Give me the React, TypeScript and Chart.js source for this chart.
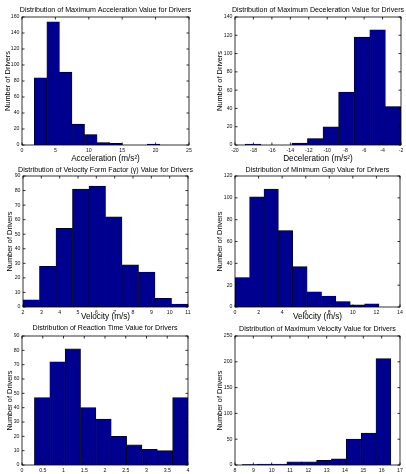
import React, { useEffect, useRef } from 'react';
import { Chart, registerables } from 'chart.js';

Chart.register(...registerables);

// Histogram bin centres and driver counts for each parameter
const accelCenters = [2.78, 4.66, 6.54, 8.42, 10.3, 12.18, 14.06, 15.94, 17.82, 19.7];
const accelCounts = [84, 154, 91, 26, 13, 3, 2, 0, 0, 1];

const decelCenters = [-18.06, -16.37, -14.68, -12.99, -11.3, -9.61, -7.92, -6.23, -4.54, -2.85];
const decelCounts = [1, 0, 0, 2, 7, 20, 58, 118, 126, 42];

const formCenters = [2.45, 3.35, 4.25, 5.15, 6.05, 6.95, 7.85, 8.75, 9.65, 10.55];
const formCounts = [5, 28, 54, 81, 83, 62, 29, 24, 6, 2];

const gapCenters = [0.63, 1.85, 3.07, 4.29, 5.51, 6.73, 7.95, 9.17, 10.39, 11.61];
const gapCounts = [27, 101, 108, 70, 37, 14, 10, 5, 2, 3];

const reactCenters = [0.485, 0.855, 1.225, 1.595, 1.965, 2.335, 2.705, 3.075, 3.445, 3.815];
const reactCounts = [47, 72, 81, 40, 32, 20, 14, 11, 10, 47];

const vmaxCenters = [8.805, 9.615, 10.425, 11.235, 12.045, 12.855, 13.665, 14.475, 15.285, 16.095];
const vmaxCounts = [1, 2, 2, 6, 6, 9, 12, 50, 62, 206];

const FONT = '"Liberation Sans", Arial, Helvetica, sans-serif';
const BAR_COLOR = '#00008F';

type Panel = {
  title: string;
  xTitle: string;
  centers: number[];
  counts: number[];
  xMin: number;
  xMax: number;
  xStep: number;
  yMax: number;
  yStep: number;
  // canvas placement on the page
  cx: number;
  cy: number;
  cw: number;
  ch: number;
  // plot area on the page
  L: number;
  T: number;
  R: number;
  B: number;
  titleY: number;
  yTitleX: number;
  xTitleY: number;
};

const panels: Panel[] = [
  {
    title: 'Distribution of Maximum Acceleration Value for Drivers',
    xTitle: 'Acceleration (m/s²)',
    centers: accelCenters, counts: accelCounts,
    xMin: 0, xMax: 25, xStep: 5, yMax: 160, yStep: 20,
    cx: 0, cy: 0, cw: 203, ch: 164,
    L: 22, T: 17, R: 189, B: 145,
    titleY: 10, yTitleX: 7.5, xTitleY: 159,
  },
  {
    title: 'Distribution of Maximum Deceleration Value for Drivers',
    xTitle: 'Deceleration (m/s²)',
    centers: decelCenters, counts: decelCounts,
    xMin: -20, xMax: -2, xStep: 2, yMax: 140, yStep: 20,
    cx: 203, cy: 0, cw: 203, ch: 164,
    L: 235, T: 17, R: 401, B: 145,
    titleY: 10.3, yTitleX: 220, xTitleY: 158.5,
  },
  {
    title: 'Distribution of Velocity Form Factor (γ) Value for Drivers',
    xTitle: 'Velocity (m/s)',
    centers: formCenters, counts: formCounts,
    xMin: 2, xMax: 11, xStep: 1, yMax: 90, yStep: 10,
    cx: 0, cy: 164, cw: 203, ch: 157,
    L: 23, T: 176, R: 188, B: 307,
    titleY: 170, yTitleX: 10, xTitleY: 316.5,
  },
  {
    title: 'Distribution of Minimum Gap Value for Drivers',
    xTitle: 'Velocity (m/s)',
    centers: gapCenters, counts: gapCounts,
    xMin: 0, xMax: 14, xStep: 2, yMax: 120, yStep: 20,
    cx: 203, cy: 164, cw: 203, ch: 157,
    L: 235, T: 176, R: 400, B: 307,
    titleY: 170, yTitleX: 220, xTitleY: 316.5,
  },
  {
    title: 'Distribution of Reaction Time Value for Drivers',
    xTitle: '',
    centers: reactCenters, counts: reactCounts,
    xMin: 0, xMax: 4, xStep: 0.5, yMax: 90, yStep: 10,
    cx: 0, cy: 321, cw: 203, ch: 153,
    L: 22, T: 336, R: 188, B: 465,
    titleY: 328.5, yTitleX: 10, xTitleY: 480,
  },
  {
    title: 'Distribution of Maximum Velocity Value for Drivers',
    xTitle: '',
    centers: vmaxCenters, counts: vmaxCounts,
    xMin: 8, xMax: 17, xStep: 1, yMax: 250, yStep: 50,
    cx: 203, cy: 321, cw: 203, ch: 153,
    L: 235, T: 336, R: 400, B: 465,
    titleY: 329, yTitleX: 220, xTitleY: 480,
  },
];

const TITLE_SIZE = 7.1;
const TICK_SIZE = 5.2;
const YLABEL_SIZE = 7.4;
const XLABEL_SIZE = 8.2;

// Plain numeric tick text: 0.5, 1, 1.5 ... without padded decimals
const tickText = (v: number | string) => String(Math.round(Number(v) * 1000) / 1000);

// Boxed axes with inward ticks on all four sides plus a centred title
const framePlugin = {
  id: 'frame',
  afterDatasetsDraw(chart: any, _args: any, opts: any) {
    const { ctx, chartArea: a, scales } = chart;
    ctx.save();
    ctx.strokeStyle = '#000';
    ctx.lineWidth = 0.8;
    ctx.strokeRect(a.left, a.top, a.right - a.left, a.bottom - a.top);
    const tl = 2.5;
    ctx.beginPath();
    scales.x.ticks.forEach((t: any) => {
      const px = scales.x.getPixelForValue(t.value);
      ctx.moveTo(px, a.bottom);
      ctx.lineTo(px, a.bottom - tl);
      ctx.moveTo(px, a.top);
      ctx.lineTo(px, a.top + tl);
    });
    scales.y.ticks.forEach((t: any) => {
      const py = scales.y.getPixelForValue(t.value);
      ctx.moveTo(a.left, py);
      ctx.lineTo(a.left + tl, py);
      ctx.moveTo(a.right, py);
      ctx.lineTo(a.right - tl, py);
    });
    ctx.stroke();
    ctx.fillStyle = '#000';
    ctx.font = `${TITLE_SIZE}px ${FONT}`;
    ctx.textAlign = 'center';
    ctx.textBaseline = 'middle';
    ctx.fillText(opts.text, (a.left + a.right) / 2, opts.y);
    ctx.restore();
  },
};

function HistPanel({ p }: { p: Panel }) {
  const ref = useRef<HTMLCanvasElement>(null);

  useEffect(() => {
    const canvas = ref.current;
    if (!canvas) return;
    const l = p.L - p.cx;
    const t = p.T - p.cy;
    const r = p.R - p.cx;
    const b = p.B - p.cy;

    const chart = new Chart(canvas, {
      type: 'bar',
      data: {
        datasets: [
          {
            data: p.centers.map((c, i) => ({ x: c, y: p.counts[i] })),
            backgroundColor: BAR_COLOR,
            borderColor: '#000',
            borderWidth: 0.6,
            borderSkipped: 'bottom',
            barPercentage: 1,
            categoryPercentage: 1,
          },
        ],
      },
      options: {
        responsive: false,
        animation: false,
        devicePixelRatio: 1,
        layout: { padding: { left: 0, top: t, right: p.cw - r, bottom: 0 } },
        plugins: {
          legend: { display: false },
          tooltip: { enabled: false },
          title: { display: false },
          frame: { text: p.title, y: p.titleY - p.cy },
        } as any,
        scales: {
          x: {
            type: 'linear',
            min: p.xMin,
            max: p.xMax,
            offset: false,
            grid: { display: false, drawTicks: false },
            border: { display: false },
            ticks: {
              stepSize: p.xStep,
              padding: 2,
              color: '#111',
              font: { family: FONT, size: TICK_SIZE },
              maxRotation: 0,
              autoSkip: false,
              callback: tickText,
            },
            title: {
              display: p.xTitle !== '',
              text: p.xTitle,
              color: '#000',
              font: { family: FONT, size: XLABEL_SIZE, lineHeight: 1 },
              padding: { top: 0, bottom: p.ch - (p.xTitleY - p.cy) - XLABEL_SIZE / 2 },
            },
            afterFit: (s: any) => {
              s.height = p.ch - b;
              s.paddingLeft = 0;
              s.paddingRight = 0;
            },
          },
          y: {
            type: 'linear',
            min: 0,
            max: p.yMax,
            grid: { display: false, drawTicks: false },
            border: { display: false },
            ticks: {
              stepSize: p.yStep,
              padding: 2.5,
              color: '#111',
              font: { family: FONT, size: TICK_SIZE },
              autoSkip: false,
              callback: tickText,
            },
            title: {
              display: true,
              text: 'Number of Drivers',
              color: '#000',
              font: { family: FONT, size: YLABEL_SIZE, lineHeight: 1 },
              padding: { top: p.yTitleX - p.cx - YLABEL_SIZE / 2, bottom: 0 },
            },
            afterFit: (s: any) => {
              s.width = l;
              s.paddingTop = 0;
              s.paddingBottom = 0;
            },
          },
        },
      } as any,
      plugins: [framePlugin as any],
    });
    return () => chart.destroy();
  }, [p]);

  return (
    <canvas
      ref={ref}
      width={p.cw}
      height={p.ch}
      style={{
        position: 'absolute',
        left: p.cx,
        top: p.cy,
        width: p.cw,
        height: p.ch,
      }}
    />
  );
}

export default function App() {
  return (
    <div
      style={{
        position: 'fixed',
        left: 0,
        top: 0,
        width: 406,
        height: 474,
        background: '#fff',
        overflow: 'hidden',
      }}
    >
      {panels.map((p, i) => (
        <HistPanel key={i} p={p} />
      ))}
    </div>
  );
}
